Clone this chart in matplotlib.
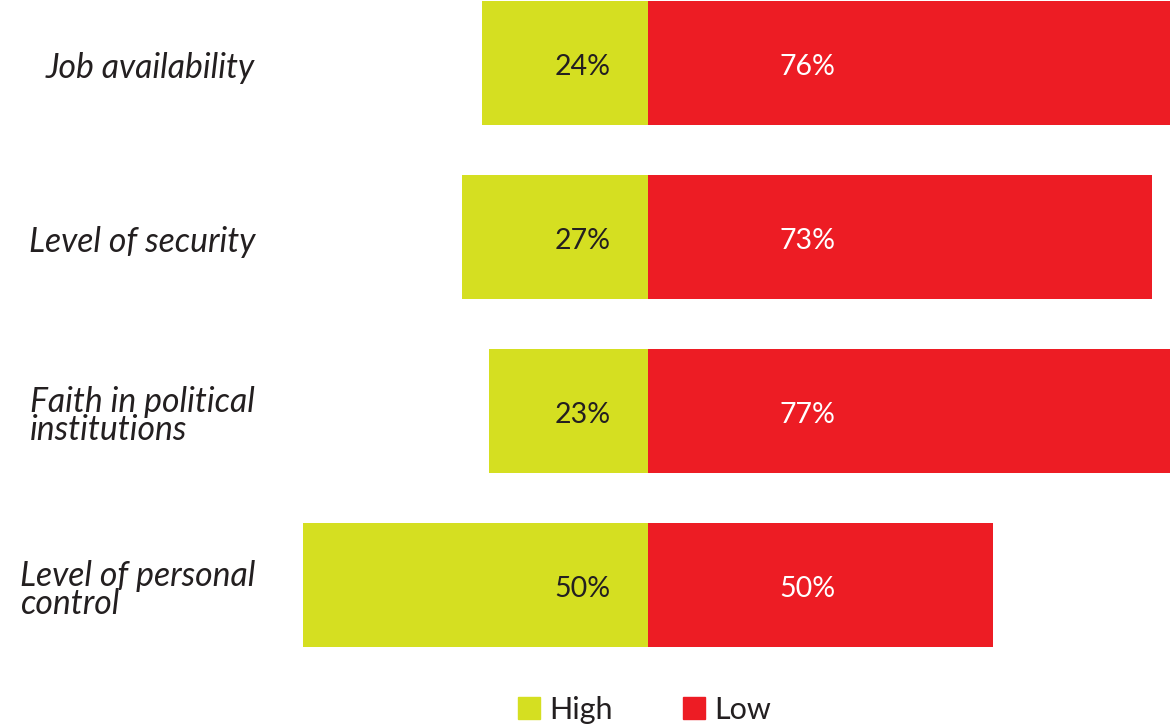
"""Diverging high/low bars."""
import matplotlib
matplotlib.use("Agg")
import matplotlib.pyplot as plt
import numpy as np
from matplotlib.patches import Patch

categories = ["Job availability", "Level of security",
              "Faith in political\ninstitutions", "Level of personal\ncontrol"]
high = [24, 27, 23, 50]
low = [76, 73, 77, 50]
legend_labels = ["High", "Low"]

GREEN = "#D5DF21"
RED = "#ED1C24"
DARK = "#231f20"
FONT = "Lato"

fig = plt.figure(figsize=(11.7, 7.28), dpi=100)
ax = fig.add_axes([0, 0, 1, 1])

px = 6.9  # pixels per percent
ax.set_xlim(-648 / px, (1170 - 648) / px)
ax.set_ylim((728 - 63) / 174, -63 / 174)
ax.axis("off")

y = np.arange(len(categories))
ax.barh(y, [-h for h in high], height=0.707, color=GREEN, edgecolor="none")
ax.barh(y, low, height=0.707, color=RED, edgecolor="none")

dy = 4 / 174  # nudge text a few pixels down
for i in y:
    ax.text(-5.4, i + dy, f"{high[i]}%", ha="right", va="center", fontsize=20.5,
            color=DARK, family=FONT)
    ax.text(19.0, i + dy, f"{low[i]}%", ha="left", va="center", fontsize=20.5,
            color="white", family=FONT)
    ax.text(255 / 1170, 1 - (68 + 174 * i) / 728, categories[i],
            transform=fig.transFigure, ha="right", va="center",
            multialignment="left", fontsize=24.3, style="italic",
            color=DARK, family=FONT, linespacing=0.85)

handles = [Patch(color=GREEN), Patch(color=RED)]
fig.legend(handles, legend_labels, loc="lower center", bbox_to_anchor=(0.551, -0.032),
           ncol=2, frameon=False, handlelength=0.72, handleheight=0.72,
           handletextpad=0.3, columnspacing=2.3, labelcolor=DARK,
           prop={"family": FONT, "size": 22})

fig.savefig("out.png", dpi=100)
plt.close(fig)
